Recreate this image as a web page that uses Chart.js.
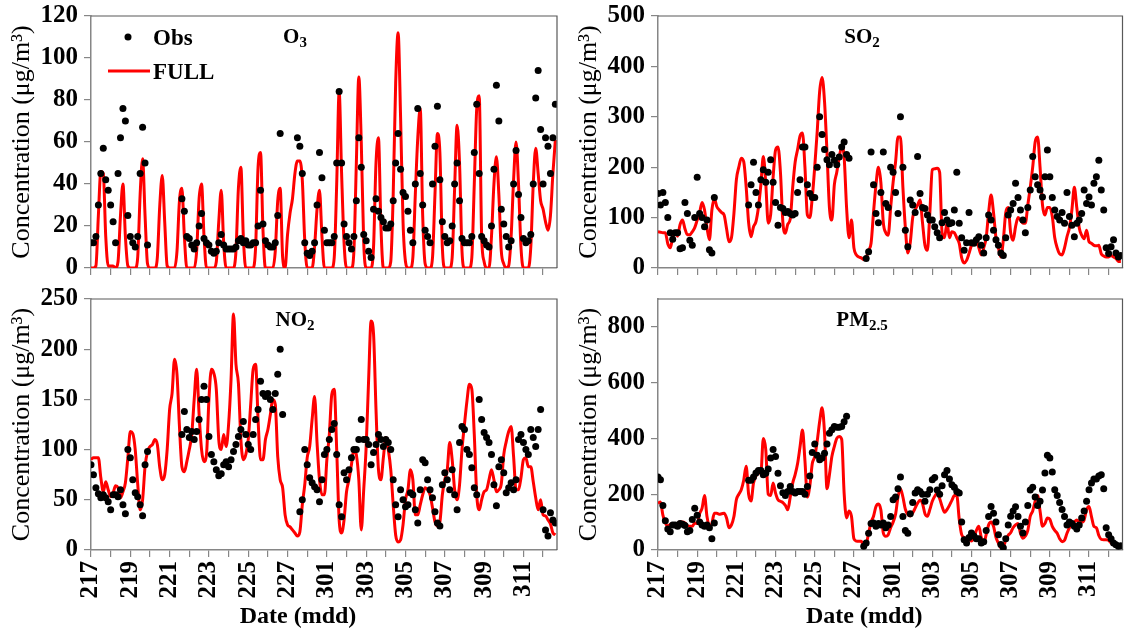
<!DOCTYPE html>
<html>
<head>
<meta charset="utf-8">
<title>Obs vs FULL</title>
<script src="https://cdn.jsdelivr.net/npm/chart.js@4.4.1/dist/chart.umd.min.js"></script>
<style>
  body { margin: 0; background: #fff; }
  #wrap { position: relative; width: 1126px; height: 635px; }
  #wrap canvas { position: absolute; }
</style>
</head>
<body>
<div id="wrap">
  <canvas id="c-o3" width="563" height="290" style="left:0;top:0"></canvas>
  <canvas id="c-so2" width="563" height="290" style="left:563px;top:0"></canvas>
  <canvas id="c-no2" width="563" height="365" style="left:0;top:270px"></canvas>
  <canvas id="c-pm" width="563" height="365" style="left:563px;top:270px"></canvas>
</div>
<script>
// readings every 3 h from 17 Feb 00:00, one row per day
const STEP_H = 3;
const X_MAX_H = 569;
const dayNames = ["217","218","219","220","221","222","223","224","225","226","227","228",
                  "301","302","303","304","305","306","307","308","309","310","311","312"];

const o3Full = [
  0,0,1,25,46,45,15,1,  1,1,0,3,25,40,15,1,  0,0,0,5,35,52,25,2,  0,0,0,5,30,44,22,1,
  0,0,0,8,32,38,15,0,  0,0,0,8,33,40,15,0,  0,0,0,3,22,37,12,0,  0,0,0,8,38,48,15,0,
  0,0,0,10,48,55,18,0,  0,0,0,8,32,38,5,0,  16,26,33,45,51,51,42,13,  0,0,0,10,28,37,15,0,
  0,0,0,5,40,84,45,12,  0,0,0,8,50,91,60,12,  0,0,0,10,50,62,20,0,  0,0,3,35,88,112,72,22,
  3,0,0,5,35,62,76,25,  2,0,0,5,35,64,55,10,  0,0,0,5,38,68,50,8,  0,0,0,5,40,76,82,15,
  3,0,0,15,40,53,35,8,  2,0,1,15,42,60,40,10,  0,0,0,10,40,57,45,32,  28,22,18,25,45,61
];
const o3Obs = [
  12,12,15,30,45,57,42,37,  30,22,12,45,62,76,70,25,  15,12,10,15,45,67,50,11,
  null,null,null,null,null,null,null,null,  null,null,null,null,null,33,27,15,
  14,11,9,12,20,26,14,12,  11,8,7,8,12,16,11,9,  9,9,9,10,13,14,12,13,
  11,11,12,12,20,37,21,13,  11,10,10,12,25,64,null,null,  null,null,null,null,62,58,45,12,
  7,6,8,12,30,55,43,18,  12,12,12,15,50,84,50,21,  15,12,9,15,32,62,48,16,
  13,8,5,28,33,27,24,22,  19,19,21,32,50,64,47,36,  34,27,18,12,40,76,45,30,
  18,15,12,40,58,77,42,22,  15,12,13,20,40,50,32,14,  12,12,12,15,55,78,45,15,
  13,11,10,20,47,87,70,28,  21,15,10,13,40,56,35,24,  14,12,13,16,40,81,94,66,
  40,62,58,45,62,78
];

const so2Full = [
  72,71,70,70,48,40,60,70,  63,86,95,78,66,66,72,80,  95,110,130,115,80,56,115,138,
  122,115,110,105,78,52,60,108,  175,200,218,211,161,90,62,82,  92,120,165,221,168,89,106,180,
  234,240,190,90,69,87,97,160,  210,235,262,268,200,105,100,140,  201,270,350,378,330,230,120,95,
  165,190,220,240,220,120,60,95,  40,26,22,20,17,20,35,49,  110,165,200,170,90,70,65,120,
  170,210,260,260,160,80,30,50,  100,115,125,135,90,45,35,110,  195,197,198,190,70,60,90,60,
  72,70,60,49,20,10,15,29,  45,52,54,40,26,40,60,110,  145,110,60,40,22,55,110,120,
  70,55,82,100,95,89,89,125,  160,200,250,260,200,125,105,120,  120,102,60,40,28,26,40,62,
  80,115,160,120,80,65,58,75,  52,49,45,44,45,28,24,22,  22,25,22,19,13,13
];
const so2Obs = [
  148,125,150,130,100,70,57,70,  70,38,40,130,108,55,45,100,  180,108,100,82,95,36,30,140,
  null,null,null,null,null,null,null,null,  null,null,null,null,null,125,165,210,
  150,125,175,195,170,190,215,170,  130,85,120,118,110,112,108,105,  108,150,175,240,240,165,148,140,
  140,200,300,265,235,215,205,225,  214,205,220,240,250,225,218,null,  null,null,null,null,null,19,32,230,
  165,108,90,150,230,128,120,200,  190,150,108,300,200,75,42,135,  125,110,221,148,120,118,105,95,
  95,82,70,60,90,110,95,88,  90,115,190,89,60,35,50,110,  50,49,56,62,45,30,60,105,
  95,75,56,45,30,25,60,105,  115,128,168,140,115,95,70,120,  155,221,181,165,155,141,181,234,
  181,140,115,102,95,110,89,150,  102,85,62,89,95,108,155,128,  141,125,168,181,214,155,115,40,
  29,42,56,30,22,25
];

const no2Full = [
  90,92,92,92,72,58,68,60,  53,57,64,62,52,58,67,92,  118,116,100,66,40,50,83,98,
  103,105,110,105,82,70,75,100,  140,156,190,175,123,83,78,88,  100,115,150,180,135,100,88,95,
  150,180,176,160,110,100,115,103,  125,170,235,185,166,110,90,95,  110,145,180,185,130,90,90,110,
  120,135,150,145,93,70,62,35,  25,23,20,17,14,18,45,65,  92,103,130,153,107,70,55,55,
  90,115,155,160,100,30,17,30,  58,70,85,100,95,70,20,60,  103,170,228,215,140,80,70,92,
  112,100,80,45,15,8,10,25,  50,60,80,70,35,35,45,55,  62,60,55,42,28,24,28,55,
  70,80,107,90,60,50,65,100,  125,148,165,160,115,55,40,50,  58,60,70,80,70,58,60,66,
  95,108,118,123,93,60,60,72,  90,92,83,83,68,52,40,50,  35,34,30,26,17,15
];
const no2Obs = [
  85,75,62,56,52,55,52,48,  40,55,55,53,60,45,36,100,  92,70,57,53,45,34,85,98,
  null,null,null,null,null,null,null,null,  null,null,null,null,null,115,138,120,
  112,118,110,118,130,150,163,150,  113,95,88,80,74,76,85,88,  83,90,98,105,113,120,128,115,
  105,100,115,130,140,168,156,153,  156,150,140,156,175,200,135,null,  null,null,null,null,null,38,50,100,
  85,72,67,63,60,48,70,95,  100,110,120,126,95,45,33,77,  70,80,92,100,100,110,130,110,
  110,105,85,97,105,115,110,103,  110,107,100,70,45,33,60,50,  43,45,57,55,40,27,60,90,
  87,70,60,52,38,27,24,65,  77,70,60,80,55,40,107,123,  120,100,95,82,62,55,150,130,
  117,112,107,95,65,44,83,90,  77,57,62,67,60,70,110,115,  107,100,95,120,112,103,120,140,
  40,20,14,37,30,27
];

const pmFull = [
  168,172,125,97,86,92,95,87,  95,100,100,97,88,85,85,97,  95,130,150,195,120,85,95,132,
  132,128,130,132,115,80,90,120,  180,200,216,250,300,200,176,240,  265,276,276,400,360,200,195,240,
  204,180,175,170,160,144,190,240,  270,310,370,430,320,190,230,310,  335,390,460,510,420,220,270,335,
  371,400,407,397,204,115,140,121,  40,32,31,31,15,22,60,100,  121,156,165,144,61,49,55,80,
  100,128,190,220,190,146,128,122,  133,150,168,178,167,130,121,145,  175,193,204,185,156,135,145,160,
  178,195,195,110,55,45,37,37,  32,45,70,85,45,25,55,90,  100,85,45,25,8,12,35,53,
  62,80,90,95,60,42,50,70,  121,140,175,195,140,85,95,115,  110,85,70,60,40,30,35,60,
  80,90,100,108,100,100,108,144,  156,120,85,80,52,38,37,37,  35,25,18,15,12,10
];
const pmObs = [
  262,252,160,105,75,65,90,90,  85,95,92,88,65,70,109,150,  125,100,90,85,90,80,40,97,
  null,null,null,null,null,null,null,null,  null,null,null,null,null,250,250,262,
  276,285,285,270,275,290,330,360,  335,275,230,205,195,210,228,210,  204,210,210,210,200,228,265,350,
  380,340,324,330,347,380,419,431,  443,440,440,443,460,480,null,null,  null,null,null,null,13,25,60,95,
  97,85,95,90,97,80,90,120,  180,190,220,262,120,70,60,130,  170,204,216,210,200,175,200,216,
  252,260,215,200,230,270,285,255,  234,225,210,204,100,37,25,45,  61,50,40,40,25,30,70,120,
  156,132,100,55,20,8,40,90,  121,140,155,120,85,61,100,160,  215,225,190,160,175,215,276,340,
  330,280,216,195,170,145,120,90,  100,95,85,75,90,115,140,175,  216,240,255,255,265,270,220,80,
  55,40,25,19,13,15
];

const AXIS = "#868686";
const SERIF = "'Liberation Serif', 'Times New Roman', serif";
const Y_TITLE = "Concentration (\u03bcg/m\u00b3)";

const panels = [
  { canvas: "c-o3", name: "O", sub: "3", full: o3Full, obs: o3Obs, yMax: 120, yStep: 20,
    dates: false, legend: true, padTop: 16, padRight: 6, yWidth: 91, xHeight: 22 },
  { canvas: "c-so2", name: "SO", sub: "2", full: so2Full, obs: so2Obs, yMax: 500, yStep: 100,
    dates: false, legend: false, padTop: 16, padRight: 2, yWidth: 95, xHeight: 22 },
  { canvas: "c-no2", name: "NO", sub: "2", full: no2Full, obs: no2Obs, yMax: 250, yStep: 50,
    dates: true, legend: false, padTop: 29, padRight: 6, yWidth: 91, xHeight: 85 },
  { canvas: "c-pm", name: "PM", sub: "2.5", full: pmFull, obs: pmObs, yMax: 900, yStep: 200,
    dates: true, legend: false, padTop: 29, padRight: 2, yWidth: 95, xHeight: 85 }
];

function toPoints(values) {
  return values.map((v, i) => ({ x: i * STEP_H, y: v }));
}

// scales must not push the plot area around, it is fixed by padding
function noScalePadding(s) {
  s.paddingLeft = 0;
  s.paddingRight = 0;
  s.paddingTop = 0;
  s.paddingBottom = 0;
}

function textPlugin(p) {
  return {
    id: "panelText",
    afterDraw(chart) {
      const ctx = chart.ctx;
      const a = chart.chartArea;
      ctx.save();

      // top and right frame
      ctx.strokeStyle = "#595959";
      ctx.lineWidth = 1.2;
      ctx.beginPath();
      ctx.moveTo(a.left, a.top);
      ctx.lineTo(a.right, a.top);
      ctx.lineTo(a.right, a.bottom);
      ctx.stroke();

      ctx.fillStyle = "#000";

      // pollutant name with subscript
      ctx.textBaseline = "alphabetic";
      ctx.textAlign = "left";
      ctx.font = "bold 21px " + SERIF;
      const wMain = ctx.measureText(p.name).width;
      ctx.font = "bold 15px " + SERIF;
      const wSub = ctx.measureText(p.sub).width;
      const x0 = a.left + 204 - (wMain + wSub) / 2;
      const base = a.top + 27;
      ctx.font = "bold 21px " + SERIF;
      ctx.fillText(p.name, x0, base);
      ctx.font = "bold 15px " + SERIF;
      ctx.fillText(p.sub, x0 + wMain, base + 4);

      // y title
      ctx.save();
      ctx.translate(a.left - 69, (a.top + a.bottom) / 2);
      ctx.rotate(-Math.PI / 2);
      ctx.textAlign = "center";
      ctx.textBaseline = "middle";
      ctx.font = "26px " + SERIF;
      ctx.fillText(Y_TITLE, 0, 0);
      ctx.restore();

      if (p.dates) {
        ctx.textAlign = "center";
        ctx.font = "bold 24px " + SERIF;
        ctx.fillText("Date (mdd)", (a.left + a.right) / 2 - 26, a.bottom + 73);
      }

      if (p.legend) {
        ctx.beginPath();
        ctx.arc(a.left + 37, a.top + 21, 3.5, 0, Math.PI * 2);
        ctx.fill();
        ctx.strokeStyle = "#ff0000";
        ctx.lineWidth = 3;
        ctx.beginPath();
        ctx.moveTo(a.left + 17, a.top + 55);
        ctx.lineTo(a.left + 59, a.top + 55);
        ctx.stroke();
        ctx.textAlign = "left";
        ctx.font = "bold 23px " + SERIF;
        ctx.fillText("Obs", a.left + 62, a.top + 29);
        ctx.fillText("FULL", a.left + 62, a.top + 63);
      }
      ctx.restore();
    }
  };
}

function makePanel(p) {
  const ctx = document.getElementById(p.canvas).getContext("2d");
  const tickFont = { family: SERIF, size: 25, weight: "bold" };
  return new Chart(ctx, {
    type: "line",
    data: {
      datasets: [
        {
          label: "Obs",
          data: toPoints(p.obs),
          showLine: false,
          pointRadius: 3.5,
          pointHoverRadius: 3.5,
          pointBorderWidth: 0,
          pointBackgroundColor: "#000",
          borderColor: "#000"
        },
        {
          label: "FULL",
          data: toPoints(p.full),
          borderColor: "#ff0000",
          borderWidth: 3,
          pointRadius: 0,
          fill: false,
          cubicInterpolationMode: "monotone"
        }
      ]
    },
    options: {
      responsive: false,
      animation: false,
      events: [],
      layout: { padding: { top: p.padTop, right: p.padRight, left: 0, bottom: 0 } },
      plugins: { legend: { display: false }, tooltip: { enabled: false } },
      scales: {
        x: {
          type: "linear",
          min: 0,
          max: X_MAX_H,
          grid: { drawOnChartArea: false, tickLength: 7, color: AXIS, lineWidth: 1.2 },
          border: { color: AXIS, width: 1.5 },
          ticks: {
            stepSize: 24,
            autoSkip: false,
            includeBounds: false,
            minRotation: 90,
            maxRotation: 90,
            padding: 4,
            color: "#000",
            font: tickFont,
            callback: (v) => (p.dates && v % 48 === 0 ? dayNames[v / 24] : "")
          },
          afterFit: (s) => { s.height = p.xHeight; noScalePadding(s); }
        },
        y: {
          min: 0,
          max: p.yMax,
          grid: { drawOnChartArea: false, tickLength: 7, color: AXIS, lineWidth: 1.2 },
          border: { color: AXIS, width: 1.5 },
          ticks: {
            stepSize: p.yStep,
            includeBounds: false,
            padding: 6,
            color: "#000",
            font: tickFont
          },
          afterFit: (s) => { s.width = p.yWidth; noScalePadding(s); }
        }
      }
    },
    plugins: [textPlugin(p)]
  });
}

panels.forEach(makePanel);
</script>
</body>
</html>
